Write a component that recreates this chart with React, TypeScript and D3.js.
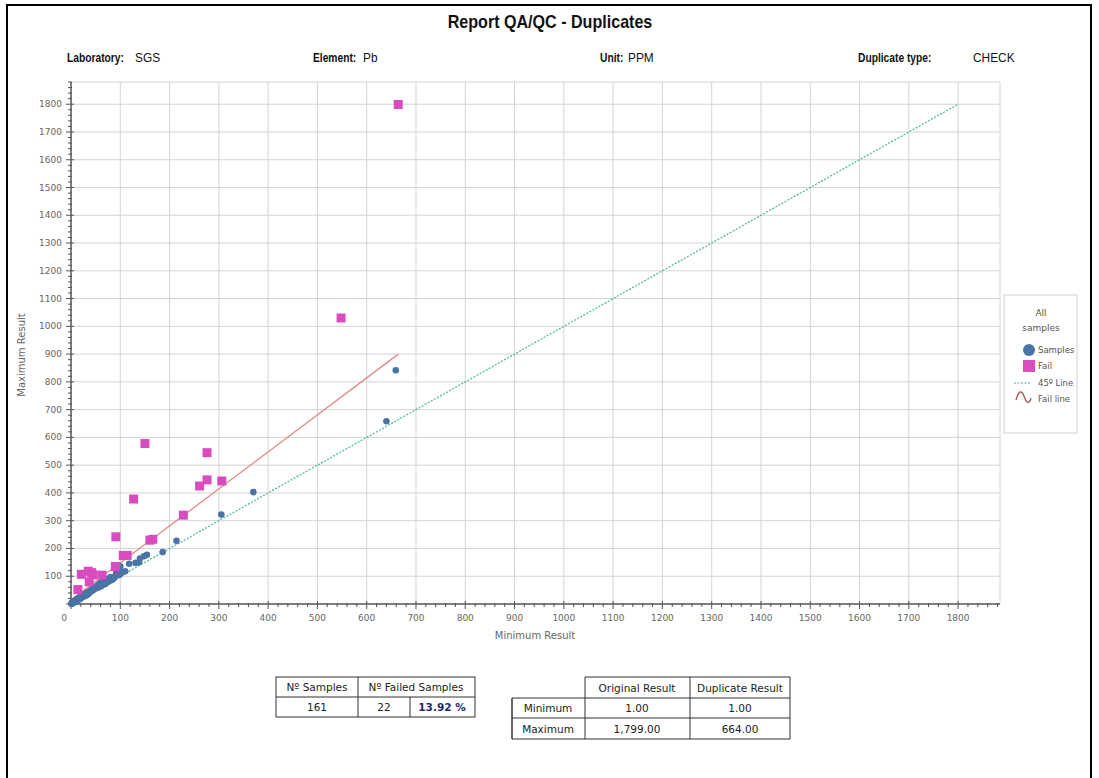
import React from "react";
import { scaleLinear, range, line } from "d3";

// chart values
const title = "Report QA/QC - Duplicates";
const headerLabels = ["Laboratory:", "Element:", "Unit:", "Duplicate type:"];
const headerValues = ["SGS", "Pb", "PPM", "CHECK"];
const xTicks = range(0, 1900, 100);
const yTicks = range(100, 1900, 100);

// [minimum result, maximum result]
const samples: [number, number][] = [
  [659, 842], [640, 658], [370, 403], [305, 322], [214, 228], [186, 187],
  [154, 177], [148, 172], [140, 164], [138, 150], [131, 148], [118, 145],
  [100, 136], [110, 118], [105, 115], [100, 110], [95, 107], [91, 103],
  [81, 92], [76, 89], [70, 85], [65, 79], [60, 76], [84, 88], [88, 95],
  [72, 80], [68, 74], [66, 72], [62, 70], [58, 66], [55, 62], [52, 60],
  [50, 58], [48, 55], [46, 52], [44, 50], [43, 48], [42, 52], [40, 46],
  [39, 44], [38, 42], [37, 45], [36, 40], [35, 39], [34, 41], [33, 37],
  [32, 36], [31, 35], [30, 34], [29, 33], [28, 31], [27, 32], [26, 30],
  [25, 28], [24, 29], [23, 26], [22, 25], [21, 24], [20, 23], [19, 22],
  [18, 20], [17, 19], [16, 18], [15, 17], [14, 16], [13, 15], [12, 14],
  [11, 13], [10, 12], [9, 11], [8, 10], [7, 9], [6, 8], [5, 7], [4, 6],
  [3, 5], [2, 3], [1, 2], [1, 1], [45, 56], [47, 60], [50, 63], [53, 58],
  [54, 66], [56, 70], [57, 61], [59, 72], [61, 64], [63, 68], [64, 77],
  [67, 83], [69, 71], [71, 76], [73, 90], [75, 79], [78, 84], [80, 97],
  [82, 86], [86, 92], [90, 99], [92, 112], [96, 120], [98, 104], [102, 112],
  [41, 49], [36, 44], [34, 38], [32, 40], [30, 37], [28, 35], [26, 33],
  [24, 27], [22, 28], [20, 26], [18, 24], [16, 21], [14, 19], [12, 16],
  [10, 14], [8, 12], [6, 9], [5, 6], [4, 5], [3, 4], [2, 2], [3, 3], [4, 4],
  [5, 5], [6, 6], [7, 7], [8, 8], [9, 9], [10, 10], [11, 11], [12, 12],
  [14, 14], [16, 17], [19, 19], [23, 24], [27, 28], [31, 31], [35, 36],
];
const fails: [number, number][] = [
  [664, 1799], [548, 1030], [150, 578], [276, 545], [261, 425], [276, 447],
  [306, 443], [127, 378], [228, 320], [91, 242], [160, 230], [166, 233],
  [106, 175], [114, 175], [90, 135], [21, 107], [35, 118], [42, 113],
  [37, 80], [14, 52], [63, 104], [45, 105],
];
const line45: [number, number][] = [[0, 0], [1800, 1800]];
const failLine: [number, number][] = [[1, 16], [664, 900]];

const legendItems = ["Samples", "Fail", "45º Line", "Fail line"];

const summaryHeader = ["Nº Samples", "Nº Failed Samples"];
const summaryValues = ["161", "22", "13.92 %"];
const rangeCols = ["Original Result", "Duplicate Result"];
const rangeRows = ["Minimum", "Maximum"];
const rangeValues = [["1.00", "1.00"], ["1,799.00", "664.00"]];

const BLUE = "#4a74a6";
const PINK = "#d94cc0";
const TEAL = "#45b59c";
const RED = "#e08a86";
const TAHOMA = "'DejaVu Sans', Tahoma, sans-serif";
const ARIAL = "'Liberation Sans', Arial, sans-serif";

export default function App() {
  const W = 1099;
  const H = 778;
  const m = { left: 71, right: 1000, top: 82, bottom: 604 };

  const x = scaleLinear().domain([0, 1885]).range([m.left, m.right]);
  const y = scaleLinear().domain([0, 1880]).range([m.bottom, m.top]);

  const path = line<[number, number]>()
    .x((d) => x(d[0]))
    .y((d) => y(d[1]));

  const minor = range(0, 1881, 20);
  const headerX = [67, 313, 600, 858];
  const valueX = [135, 363, 628, 973];

  return (
    <svg
      width={W}
      height={H}
      style={{ position: "absolute", left: 0, top: 0, background: "#fff" }}
    >
      <rect x={0} y={0} width={W} height={H} fill="#fff" />
      {/* page frame */}
      <path d={`M7,${H + 5} V5 H1091 V${H + 5}`} fill="none" stroke="#000" strokeWidth={2} />

      <text transform="translate(550,28) scale(0.92,1)" textAnchor="middle" fontFamily={ARIAL} fontWeight="bold" fontSize={17.5} fill="#111">
        {title}
      </text>
      {headerLabels.map((l, i) => (
        <g key={l}>
          <text transform={`translate(${headerX[i]},62) scale(0.82,1)`} fontFamily={ARIAL} fontWeight="bold" fontSize={12.5} fill="#111">
            {l}
          </text>
          <text transform={`translate(${valueX[i]},62) scale(0.95,1)`} fontFamily={ARIAL} fontSize={12.5} fill="#111">
            {headerValues[i]}
          </text>
        </g>
      ))}

      {/* grid */}
      <g stroke="#d4d4d4" strokeWidth={1}>
        {xTicks.filter((t) => t > 0).map((t) => (
          <line key={"gx" + t} x1={x(t)} x2={x(t)} y1={m.top} y2={m.bottom} />
        ))}
        {yTicks.map((t) => (
          <line key={"gy" + t} x1={m.left} x2={m.right} y1={y(t)} y2={y(t)} />
        ))}
        <line x1={m.left} x2={m.right} y1={m.top} y2={m.top} />
        <line x1={m.right} x2={m.right} y1={m.top} y2={m.bottom} />
      </g>

      {/* axes */}
      <g stroke="#555" fill="none">
        <line x1={m.left} x2={m.right} y1={m.bottom} y2={m.bottom} strokeWidth={1.5} />
        <line x1={m.left} x2={m.left} y1={m.top} y2={m.bottom} strokeWidth={1.5} />
        {minor.filter((t) => x(t) <= m.right).map((t) => (
          <line key={"mx" + t} x1={x(t)} x2={x(t)} y1={m.bottom - (t % 100 === 0 ? 3 : 1)} y2={m.bottom + (t % 100 === 0 ? 5 : 3)} strokeWidth={1} />
        ))}
        {minor.filter((t) => y(t) >= m.top).map((t) => (
          <line key={"my" + t} x1={m.left - (t % 100 === 0 ? 5 : 3)} x2={m.left + (t % 100 === 0 ? 3 : 1)} y1={y(t)} y2={y(t)} strokeWidth={1} />
        ))}
      </g>
      {xTicks.map((t) => (
        <text key={"tx" + t} x={t === 0 ? x(t) - 7 : x(t)} y={621} textAnchor="middle" fontFamily={TAHOMA} fontSize={9} fill="#666">
          {t}
        </text>
      ))}
      {yTicks.map((t) => (
        <text key={"ty" + t} x={62} y={y(t) + 3} textAnchor="end" fontFamily={TAHOMA} fontSize={9} fill="#666">
          {t}
        </text>
      ))}
      <text x={535} y={639} textAnchor="middle" fontFamily={TAHOMA} fontSize={10} fill="#666">
        Minimum Result
      </text>
      <text transform="translate(25,355) rotate(-90)" textAnchor="middle" fontFamily={TAHOMA} fontSize={10} fill="#666">
        Maximum Result
      </text>

      {/* lines */}
      <path d={path(line45) ?? ""} fill="none" stroke={TEAL} strokeWidth={1.2} strokeDasharray="2,1.5" />
      <path d={path(failLine) ?? ""} fill="none" stroke={RED} strokeWidth={1.3} />

      {/* points */}
      {samples.map((d, i) => (
        <circle key={"s" + i} cx={x(d[0])} cy={y(d[1])} r={3.3} fill={BLUE} />
      ))}
      {fails.map((d, i) => (
        <rect key={"f" + i} x={x(d[0]) - 4.5} y={y(d[1]) - 4.5} width={9} height={9} fill={PINK} />
      ))}

      {/* legend */}
      <g fontFamily={TAHOMA} fontSize={8.5} fill="#555">
        <rect x={1004} y={295} width={73} height={138} fill="#fff" stroke="#cfcfcf" />
        <text x={1041} y={316} textAnchor="middle" fontSize={9}>All</text>
        <text x={1041} y={331} textAnchor="middle" fontSize={9}>samples</text>
        <circle cx={1029} cy={350} r={6} fill={BLUE} />
        <rect x={1023} y={360} width={12} height={12} fill={PINK} />
        <line x1={1014} x2={1030} y1={383} y2={383} stroke={TEAL} strokeWidth={1.2} strokeDasharray="2,1.5" />
        <path d="M1016,400 C1019,389 1022,391 1024,396 C1026,402 1029,406 1031,398" fill="none" stroke="#b0504a" strokeWidth={1.3} />
        {legendItems.map((l, i) => (
          <text key={l} x={1038} y={353 + i * 16.3}>{l}</text>
        ))}
      </g>

      {/* summary table */}
      <g fontFamily={TAHOMA} fontSize={10.5} fill="#222">
        <rect x={276} y={677} width={199} height={40} fill="none" stroke="#333" />
        <line x1={276} x2={475} y1={697} y2={697} stroke="#333" />
        <line x1={358} x2={358} y1={677} y2={717} stroke="#333" />
        <line x1={410} x2={410} y1={697} y2={717} stroke="#333" />
        <text x={317} y={691} textAnchor="middle">{summaryHeader[0]}</text>
        <text x={416} y={691} textAnchor="middle">{summaryHeader[1]}</text>
        <text x={317} y={711} textAnchor="middle">{summaryValues[0]}</text>
        <text x={384} y={711} textAnchor="middle">{summaryValues[1]}</text>
        <text x={442} y={711} textAnchor="middle" fontWeight="bold" fill="#1f2a6e">{summaryValues[2]}</text>
      </g>

      {/* min / max table */}
      <g fontFamily={TAHOMA} fontSize={10.5} fill="#222">
        <path d="M585,677 H790 V739 H512 V698 H790 M585,677 V739 M690,677 V739 M512,718 H790 M512,698 V739" fill="none" stroke="#333" />
        <text x={637} y={692} textAnchor="middle">{rangeCols[0]}</text>
        <text x={740} y={692} textAnchor="middle">{rangeCols[1]}</text>
        {rangeRows.map((r, i) => (
          <g key={r}>
            <text x={548} y={712 + i * 20.5} textAnchor="middle">{r}</text>
            <text x={637} y={712 + i * 20.5} textAnchor="middle">{rangeValues[i][0]}</text>
            <text x={740} y={712 + i * 20.5} textAnchor="middle">{rangeValues[i][1]}</text>
          </g>
        ))}
      </g>
    </svg>
  );
}
